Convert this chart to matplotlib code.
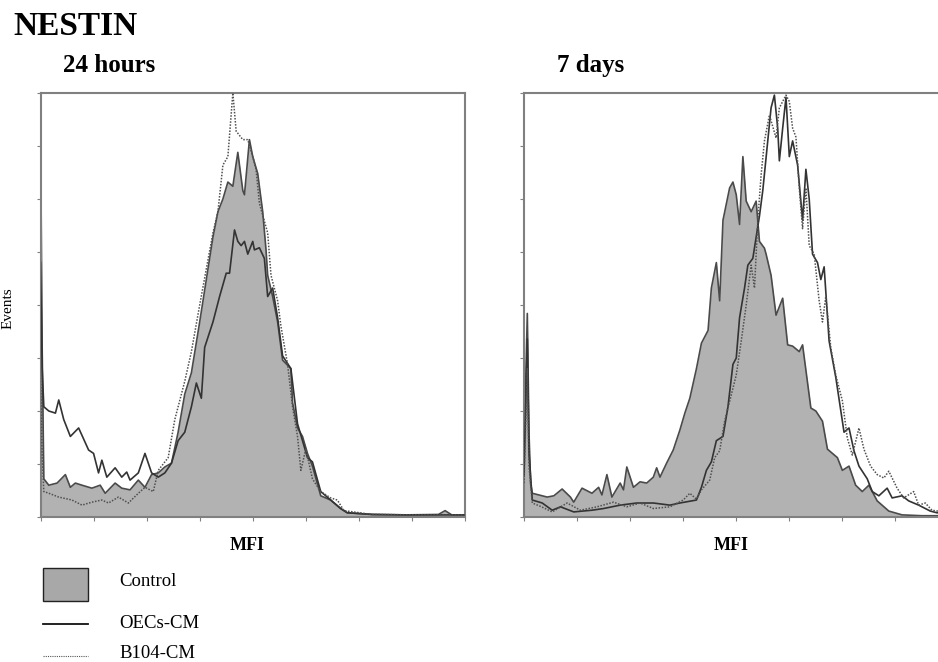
import numpy as np
import matplotlib
matplotlib.use('Agg')
import matplotlib.pyplot as plt
from matplotlib.patches import Rectangle
from matplotlib.lines import Line2D

plt.rcParams['font.family'] = ['Liberation Serif', 'DejaVu Serif']

# ---- 24 hours panel (channel 0-256, events scaled 0-100) ----
ch_24_ctrl = [0, 1, 2, 5, 10, 15, 18, 21, 25, 31, 36, 39, 45, 49, 54, 59, 63, 67, 71, 75, 79, 83, 87, 91,
              96, 100, 104, 107, 110, 113, 116, 119, 122, 123, 126, 128, 131, 134, 136, 137, 140, 143, 146,
              151, 152, 155, 158, 161, 164, 169, 175, 181, 185, 200, 220, 240, 244, 248, 256]
ev_24_ctrl = [93, 40, 9, 7.5, 8, 10, 7, 8, 7.5, 6.8, 7.5, 5.6, 8, 6.8, 6.4, 8.7, 7, 10, 10.4, 11.8, 12.7, 20, 29, 34,
              46, 56, 66, 72, 75, 79, 78, 86, 77, 76, 89, 85, 81, 72, 63, 57, 52, 46, 37,
              35, 27, 21, 19, 15, 12, 5, 4, 2, 1, 0.6, 0.5, 0.6, 1.5, 0.5, 0.5]

ch_24_oecs = [0, 1, 2, 5, 9, 11, 14, 18, 23, 29, 32, 35, 37, 40, 45, 49, 52, 54, 59, 63, 67, 71, 75, 79, 83,
              87, 91, 94, 97, 99, 104, 108, 112, 114, 117, 119, 121, 123, 125, 128, 129, 132, 135, 137, 140,
              143, 146, 151, 155, 158, 161, 164, 169, 175, 181, 185, 200, 220, 240, 256]
ev_24_oecs = [60, 35, 26, 25, 24.5, 27.6, 23, 19, 21, 15.8, 15, 10.4, 13.4, 9.4, 11.6, 9.4, 10.6, 8.7, 10.4, 15, 10.4,
              9.4, 10.4, 12.7, 18, 20, 26, 31.6, 28, 40, 46, 52, 57.5, 57.5, 67.7, 65, 64, 65, 62, 65, 63, 63.5,
              61, 52, 54, 47, 38, 35, 22, 18, 14, 13, 6, 4, 2, 1, 0.6, 0.5, 0.5, 0.5]

ch_24_b104 = [0, 1, 2, 5, 11, 19, 25, 31, 37, 41, 47, 53, 59, 63, 68, 71, 77, 81, 87, 91, 96, 104, 107, 110,
              113, 116, 118, 122, 125, 128, 130, 132, 137, 139, 143, 145, 149, 152, 155, 157, 160, 164, 169,
              175, 179, 183, 200, 230, 256]
ev_24_b104 = [35, 15, 6, 5.6, 4.7, 4, 2.8, 3.5, 4, 3.3, 4.7, 3.3, 5.6, 7, 6, 11, 14, 23, 32, 39, 50, 67, 72, 83,
              85, 100, 91, 89, 89, 85, 82, 74, 67, 57, 51, 45, 36, 26, 19, 11, 16, 9, 6,
              4.5, 4, 1.5, 0.6, 0.5, 0.5]

# ---- 7 days panel ----
ch_7_ctrl = [0, 2, 3, 4, 5, 14, 18, 23, 28, 30, 35, 41, 45, 47, 50, 53, 58, 60, 62, 66, 70, 74, 78, 80, 82,
             86, 90, 94, 97, 100, 104, 107, 111, 113, 116, 118, 120, 124, 126, 128, 130, 132, 134, 137,
             140, 142, 145, 146, 149, 152, 156, 159, 162, 166, 168, 173, 176, 180, 183, 189, 192, 196,
             200, 204, 208, 213, 220, 228, 240, 256]
ev_7_ctrl = [15, 48, 20, 8, 5.6, 4.7, 5, 6.6, 4.7, 3.5, 6.8, 5.6, 7, 5.2, 10, 4.7, 8, 6.4, 11.8, 7, 8.3, 8, 9.4, 11.6,
             9.4, 12.7, 15.8, 20.5, 24.5, 28, 35, 41, 44, 54, 60, 51, 70, 77.6, 79, 76, 69, 85, 74.5, 72,
             74.5, 65, 63.4, 62, 57, 47.6, 51.6, 40.6, 40.3, 39, 40.6, 25.7, 25, 22.6, 16, 14, 11, 12,
             7.5, 6, 7.5, 3.8, 1.4, 0.5, 0.3, 0.3]

ch_7_oecs = [0, 2, 3, 5, 11, 17, 22, 30, 41, 48, 58, 68, 78, 88, 94, 104, 107, 110, 113, 116, 120, 123, 126,
             128, 130, 133, 135, 138, 140, 142, 144, 147, 149, 151, 153, 154, 156, 158, 160, 162, 165, 168,
             170, 172, 174, 177, 179, 181, 184, 188, 192, 193, 196, 199, 202, 207, 210, 214, 219, 222, 228,
             232, 238, 245, 249, 256]
ev_7_oecs = [10, 42, 15, 4, 3.3, 1.6, 2.4, 1.2, 1.6, 2, 2.8, 3.3, 3.3, 2.8, 3.3, 4, 7, 11, 13, 18, 19, 26, 36,
             37.5, 47, 54, 59.4, 61, 66, 71, 77, 88.7, 96.5, 99.5, 91.7, 84, 91.7, 99, 85, 88.7, 83, 70,
             82, 75, 62, 60, 56, 59, 41.5, 33, 22.6, 20, 21, 15.6, 12, 9, 6, 5, 6.8, 4.5, 5,
             3.8, 2.8, 1.4, 1, 0.8]

ch_7_b104 = [0, 2, 3, 5, 10, 17, 26, 34, 44, 54, 62, 70, 78, 88, 96, 100, 104, 107, 112, 115, 118, 121, 125,
             128, 131, 134, 137, 139, 141, 143, 145, 148, 152, 154, 158, 160, 162, 164, 166, 168, 170, 172,
             175, 178, 180, 182, 185, 188, 192, 195, 198, 202, 205, 209, 213, 217, 220, 225, 229, 235, 238,
             242, 246, 256]
ev_7_b104 = [8, 35, 12, 3.3, 2.5, 1.2, 3.3, 1.6, 2.4, 3.5, 2.4, 3.3, 2, 2.4, 4, 5.6, 4.2, 6.4, 8.7, 14, 15.6, 22.6, 28.8,
             33.5, 41.5, 50, 59.4, 54, 70, 80.7, 88.7, 94.8, 89.4, 96.5, 99.5, 98, 91.7, 89.6, 77.6, 68, 77.6, 64,
             62, 51, 46, 52, 40, 33.5, 27.4, 18.6, 14.6, 21, 16, 12, 10, 9.2, 10.8, 6.8, 4.5, 6, 2.8,
             3.3, 1.6, 1]

panel_titles = ['24 hours', '7 days']
legend_labels = ['Control', 'OECs-CM', 'B104-CM']

FILL = '#b2b2b2'
W, H = 938, 662


def fx(px):
    return px / W


def fy(py):
    return 1 - py / H


fig = plt.figure(figsize=(W / 100, H / 100), dpi=100)

panels = [
    (40.5, (ch_24_ctrl, ev_24_ctrl), (ch_24_oecs, ev_24_oecs), (ch_24_b104, ev_24_b104)),
    (524, (ch_7_ctrl, ev_7_ctrl), (ch_7_oecs, ev_7_oecs), (ch_7_b104, ev_7_b104)),
]

for i, (left_px, ctrl, oecs, b104) in enumerate(panels):
    ax = fig.add_axes([fx(left_px), fy(517), 424.5 / W, 424 / H])
    ax.fill_between(ctrl[0], ctrl[1], 0, color=FILL, lw=0, zorder=1)
    ax.plot(ctrl[0], ctrl[1], color='#4a4a4a', lw=1.2, zorder=2)
    ax.plot(oecs[0], oecs[1], color='#333333', lw=1.2, zorder=3)
    ax.plot(b104[0], b104[1], color='#505050', lw=1.1, ls=(0, (1, 1)), zorder=4)
    ax.set_xlim(0, 256)
    ax.set_ylim(0, 100)
    ax.set_xticks(np.arange(0, 257, 32))
    ax.set_yticks(np.arange(0, 101, 12.5))
    ax.tick_params(length=3, width=0.8, color='#808080', labelbottom=False, labelleft=False)
    for s in ax.spines.values():
        s.set_color('#808080')
        s.set_linewidth(1.5)
    # panel title and axis label
    fig.text(fx(left_px + 22 if i == 0 else left_px + 33), fy(72), panel_titles[i],
             fontsize=18, fontweight='bold', ha='left', va='baseline')
    fig.text(fx(left_px + 207), fy(545), 'MFI', fontsize=13, fontweight='bold',
             ha='center', va='center')

fig.text(fx(13), fy(35), 'NESTIN', fontsize=24, fontweight='bold', ha='left', va='baseline')
fig.text(fx(8), fy(308), 'Events', fontsize=11, rotation=90, ha='center', va='center')

# legend
fig.add_artist(Rectangle((fx(43), fy(601)), 45 / W, 33 / H, transform=fig.transFigure,
                         facecolor='#a8a8a8', edgecolor='#222222', lw=1.0))
fig.add_artist(Line2D([fx(43), fx(88)], [fy(624), fy(624)], transform=fig.transFigure,
                      color='#111111', lw=1.3))
fig.add_artist(Line2D([fx(43), fx(88)], [fy(656), fy(656)], transform=fig.transFigure,
                      color='#555555', lw=0.8, ls=(0, (1, 1))))
for lab, py in zip(legend_labels, [582, 623, 654]):
    fig.text(fx(119), fy(py), lab, fontsize=13.5, ha='left', va='center')

plt.savefig('out.png', dpi=100)
